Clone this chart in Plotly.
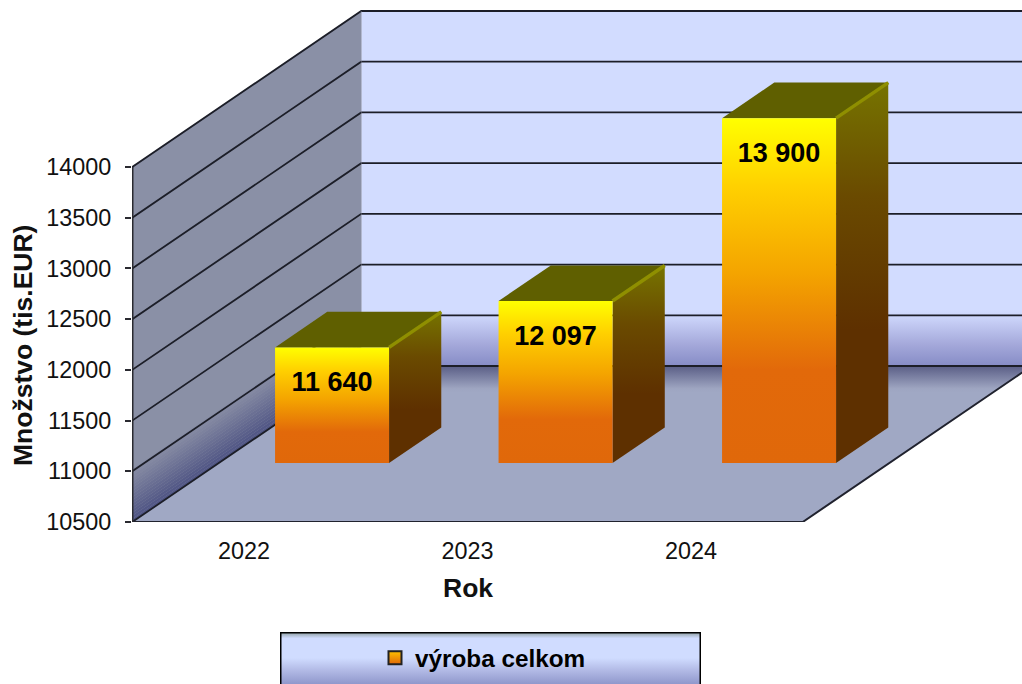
import plotly.graph_objects as go

years = ["2022", "2023", "2024"]
values = [11640, 12097, 13900]
y_ticks = [10500, 11000, 11500, 12000, 12500, 13000, 13500, 14000]
series_name = "výroba celkom"
y_title = "Množstvo (tis.EUR)"
x_title = "Rok"

W, H = 1022, 684
PX_X = 223.5
PX_Y = 355 / 3500
X_ORIGIN_PX = 244
AX_L, AX_B = 132, 522
BASE = y_ticks[0]
TOP = y_ticks[-1]
X_MIN, X_MAX = -0.5, 2.5
# oblique depth vector (1.0 = full floor depth)
DX = 229 / PX_X
DY = 156 / PX_Y
BAR_HALF = 57 / PX_X
BAR_SHIFT = 1.5 / PX_X
BAR_D0, BAR_D1 = 0.378, 0.606


def P(x, y, d=0.0):
    return x + DX * d, y + DY * d


def poly(points):
    xs = [p[0] for p in points] + [points[0][0]]
    ys = [p[1] for p in points] + [points[0][1]]
    return xs, ys


fig = go.Figure()


def face(points, color=None, scale=None, xa="x", ya="y", start=None, stop=None):
    xs, ys = poly(points)
    kw = dict(fillcolor=color) if color else dict(
        fillgradient=dict(type="vertical", colorscale=scale, start=start, stop=stop))
    fig.add_trace(go.Scatter(x=xs, y=ys, mode="lines", line=dict(width=0), fill="toself",
                             hoverinfo="skip", showlegend=False, xaxis=xa, yaxis=ya, **kw))


def line(points, color="#1a1a22", width=1.5, clip=True):
    fig.add_trace(go.Scatter(x=[p[0] for p in points], y=[p[1] for p in points], mode="lines",
                             line=dict(color=color, width=width), hoverinfo="skip",
                             showlegend=False, cliponaxis=clip))


x_right = (W - X_ORIGIN_PX) / PX_X
x_left = (AX_L - X_ORIGIN_PX) / PX_X
y_top = BASE + AX_B / PX_Y

# back wall
bx = P(X_MIN, 0, 1)[0]
floor_y = P(0, BASE, 1)[1]
top_y = P(0, TOP, 1)[1]
face([(bx, floor_y), (x_right, floor_y), (x_right, top_y), (bx, top_y)],
     scale=[[0, "#868cc6"], [0.06, "#a4a8da"], [0.14, "#cdd6fb"], [0.16, "#d2dcff"], [1, "#d2dcff"]],
     start=floor_y, stop=top_y)

# left wall: flat, with shaded strip along the floor
face([P(X_MIN, BASE, 0), P(X_MIN, TOP, 0), P(X_MIN, TOP, 1), P(X_MIN, BASE, 1)], color="#8a90a6")
strip_colors = ["#505584", "#535887", "#565b88", "#5a5f8a", "#5d628c", "#61668e", "#646990",
                "#686d92", "#6b7094", "#6f7496", "#727798", "#767b9a", "#797e9c", "#7d829e",
                "#8085a0", "#8388a2", "#868ba4"]
STRIP = 520 / len(strip_colors)
for i, c in enumerate(strip_colors):
    a, b = BASE + i * STRIP, BASE + (i + 1) * STRIP
    face([P(X_MIN, a, 0), P(X_MIN, b, 0), P(X_MIN, b, 1), P(X_MIN, a, 1)], color=c)

# floor
face([P(X_MIN, BASE, 0), P(X_MAX, BASE, 0), P(X_MAX, BASE, 1), P(X_MIN, BASE, 1)], color="#a0a8c4")
face([P(X_MIN, BASE, 1), P(X_MAX, BASE, 1), P(X_MAX, BASE, 0.83), P(X_MIN, BASE, 0.83)],
     scale=[[0, "#a0a8c4"], [0.15, "#9ea5c1"], [1, "#5a5e86"]],
     start=P(0, BASE, 0.83)[1], stop=P(0, BASE, 1)[1])
# left wall covers the wedge of the shading strip on the left
face([P(X_MIN, BASE, 0), P(X_MIN, BASE, 1), P(X_MIN, BASE, 0.83)], color="#a0a8c4")

# grid lines on both walls
for v in y_ticks:
    line([P(X_MIN, v, 0), P(X_MIN, v, 1), (x_right, P(0, v, 1)[1])],
         color="#1c1e28", width=1.8)
line([P(X_MIN, BASE, 0), P(X_MAX, BASE, 0), P(X_MAX, BASE, 1)], color="#20222e", width=2)
line([P(X_MIN, TOP, 1), P(X_MIN, BASE, 1)], color="#8a90a6", width=0.5)
line([P(X_MIN, BASE, 0), P(X_MIN, TOP, 0)], color="#2a2a30", width=2.5, clip=False)

# bars
FRONT_SCALE = [[0, "#e0680a"], [0.27, "#e2690a"], [0.55, "#f4a400"], [0.8, "#ffd000"], [1, "#ffff00"]]
SIDE_SCALE = [[0, "#5e3000"], [0.35, "#5e3000"], [0.7, "#6a4a00"], [1, "#767400"]]
for i, v in enumerate(values):
    l, r = i - BAR_HALF + BAR_SHIFT, i + BAR_HALF + BAR_SHIFT
    face([P(r, BASE, BAR_D0), P(r, v, BAR_D0), P(r, v, BAR_D1), P(r, BASE, BAR_D1)], scale=SIDE_SCALE,
         start=P(0, BASE, BAR_D0)[1], stop=P(0, v, BAR_D1)[1])
    face([P(l, v, BAR_D0), P(r, v, BAR_D0), P(r, v, BAR_D1), P(l, v, BAR_D1)], color="#5f5f00")
    line([P(r, v, BAR_D0), P(r, v, BAR_D1)], color="#8f8f00", width=3.5)
    face([P(l, BASE, BAR_D0), P(r, BASE, BAR_D0), P(r, v, BAR_D0), P(l, v, BAR_D0)], scale=FRONT_SCALE,
         start=P(0, BASE, BAR_D0)[1], stop=P(0, v, BAR_D0)[1])

# data labels
LABEL_DROP = 37 / PX_Y
fig.add_trace(go.Scatter(
    x=[P(i + BAR_SHIFT, v, BAR_D0)[0] for i, v in enumerate(values)],
    y=[P(i, v, BAR_D0)[1] - LABEL_DROP for i, v in enumerate(values)],
    mode="text",
    text=[f"{v:,}".replace(",", " ") for v in values],
    textposition="middle center",
    textfont=dict(family="Liberation Sans", size=27, color="#000000", weight=700),
    hoverinfo="skip", showlegend=False))

# legend box (own small subplot)
face([(0, 0), (1, 0), (1, 1), (0, 1)],
     scale=[[0, "#9098cc"], [0.25, "#b0b8e4"], [0.5, "#d0dcff"], [0.88, "#d0dcff"], [1, "#8a9a9a"]],
     xa="x2", ya="y2", start=0, stop=1)
fig.add_trace(go.Scatter(x=[0, 0, 1, 1], y=[0, 1, 1, 0], mode="lines", xaxis="x2", yaxis="y2",
                         line=dict(color="#000000", width=3), hoverinfo="skip",
                         showlegend=False, cliponaxis=False))

# legend key
fig.add_trace(go.Scatter(x=[None], y=[None], mode="markers", name=series_name,
                         marker=dict(symbol="square", size=13, color="#ffc000",
                                     gradient=dict(type="vertical", color="#e0680a"),
                                     line=dict(color="#222222", width=2))))

fig.update_layout(
    width=W, height=H,
    margin=dict(l=0, r=0, t=0, b=0, autoexpand=False),
    paper_bgcolor="#ffffff", plot_bgcolor="rgba(0,0,0,0)",
    font=dict(family="Liberation Sans", color="#111111"),
    xaxis=dict(domain=[AX_L / W, 1], range=[x_left, x_right], tickmode="array",
               tickvals=[0, 1, 2], ticktext=years, ticks="", showgrid=False, zeroline=False,
               showline=False, tickfont=dict(size=23.4), ticklabelstandoff=13),
    yaxis=dict(domain=[(H - AX_B) / H, 1], range=[BASE, y_top], tickmode="array",
               tickvals=y_ticks, ticktext=[str(t) for t in y_ticks],
               ticks="outside", ticklen=6, tickwidth=2, tickcolor="#2a2a30",
               showgrid=False, zeroline=False, showline=False,
               tickfont=dict(size=23.4), ticklabelstandoff=9),
    xaxis2=dict(domain=[280 / W, 701 / W], range=[0, 1], visible=False, anchor="y2"),
    yaxis2=dict(domain=[0, 52 / H], range=[0, 1], visible=False, anchor="x2"),
    legend=dict(x=375 / W, y=(H - 658) / H, xanchor="left", yanchor="middle",
                bgcolor="rgba(0,0,0,0)", borderwidth=0,
                font=dict(size=24.3, weight=700, color="#000000")),
    annotations=[
        dict(text=x_title, xref="paper", yref="paper", x=468 / W, y=(H - 588) / H, showarrow=False,
             font=dict(size=26.5, weight=700, color="#111111"), xanchor="center", yanchor="middle"),
        dict(text=y_title, xref="paper", yref="paper", x=23 / W, y=(H - 346) / H, showarrow=False,
             textangle=-90, font=dict(size=26.5, weight=700, color="#111111"),
             xanchor="center", yanchor="middle"),
    ],
)

fig.write_html("out.html", config={"displayModeBar": False},
               post_script="document.body.style.margin='0';document.body.style.overflow='hidden';")
